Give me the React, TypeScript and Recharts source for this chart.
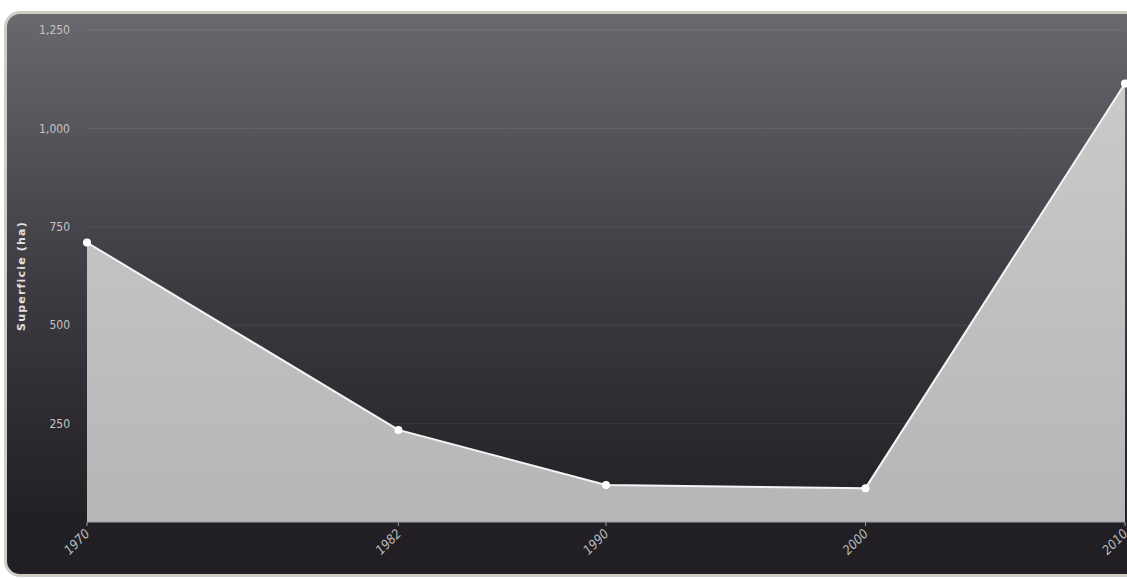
import React from 'react';
import {
  AreaChart,
  Area,
  XAxis,
  YAxis,
  CartesianGrid,
  Label,
} from 'recharts';

const years = [1970, 1982, 1990, 2000, 2010];
const surface = [710, 234, 94, 86, 1114];
const yTicks = [250, 500, 750, 1000, 1250];

const data = years.map((year, i) => ({ year, surface: surface[i] }));

const formatThousands = (v: number) => v.toString().replace(/\B(?=(\d{3})+(?!\d))/g, ',');

const XTick = (props: any) => {
  const { x, y, payload } = props;
  return (
    <g transform={`translate(${x},${y + 3})`}>
      <text
        transform="rotate(-45)"
        textAnchor="end"
        dy={5}
        fill="#bcbcbc"
        fontSize={13}
        fontStyle="italic"
        fontFamily="'DejaVu Sans Condensed', 'DejaVu Sans', sans-serif"
      >
        {payload.value}
      </text>
    </g>
  );
};

const YTitle = () => (
  <text
    x={22}
    y={276}
    transform="rotate(-90, 22, 276)"
    textAnchor="middle"
    dominantBaseline="middle"
    fill="#e2e2e2"
    fontSize={11}
    fontWeight="bold"
    letterSpacing={1.2}
    fontFamily="'DejaVu Sans', sans-serif"
  >
    Superficie (ha)
  </text>
);

const App: React.FC = () => {
  return (
    <div
      style={{
        position: 'absolute',
        left: 0,
        top: 0,
        width: 1127,
        height: 579,
        overflow: 'hidden',
        background: '#ffffff',
      }}
    >
      <div
        style={{
          position: 'absolute',
          left: 4,
          top: 11,
          width: 1150,
          height: 560,
          border: '3px solid #cfcdc3',
          borderRadius: 16,
          background: 'linear-gradient(to bottom, #6a686f 0%, #3c3a40 50%, #222025 90%, #211f24 100%)',
        }}
      />
      <div style={{ position: 'absolute', left: 0, top: 0 }}>
        <AreaChart
          width={1127}
          height={579}
          data={data}
          margin={{ top: 30, right: 2, bottom: 0, left: 0 }}
        >
          <defs>
            <linearGradient id="areaFill" x1="0" y1="0" x2="0" y2="1">
              <stop offset="0%" stopColor="#cacaca" />
              <stop offset="100%" stopColor="#b6b6b6" />
            </linearGradient>
          </defs>
          <CartesianGrid
            vertical={false}
            stroke="rgba(255,255,255,0.08)"
          />
          <XAxis
            dataKey="year"
            type="number"
            domain={[1970, 2010]}
            ticks={years}
            height={57}
            axisLine={{ stroke: '#9a9a9a', strokeWidth: 1 }}
            tickLine={{ stroke: '#9a9a9a' }}
            tickSize={4}
            tick={<XTick />}
            interval={0}
          />
          <YAxis
            width={87}
            domain={[0, 1250]}
            ticks={yTicks}
            axisLine={false}
            tickLine={false}
            tickSize={0}
            tickMargin={17}
            tickFormatter={formatThousands}
            tick={{
              fill: '#c4c4c4',
              fontSize: 12,
              fontFamily: "'DejaVu Sans Condensed', 'DejaVu Sans', sans-serif",
            }}
          >
            <Label content={<YTitle />} />
          </YAxis>
          <Area
            type="linear"
            dataKey="surface"
            stroke="#f4f4f4"
            strokeWidth={2}
            fill="url(#areaFill)"
            fillOpacity={1}
            dot={{ r: 4, fill: '#ffffff', stroke: 'none' }}
            activeDot={false}
            isAnimationActive={false}
          />
        </AreaChart>
      </div>
    </div>
  );
};

export default App;
